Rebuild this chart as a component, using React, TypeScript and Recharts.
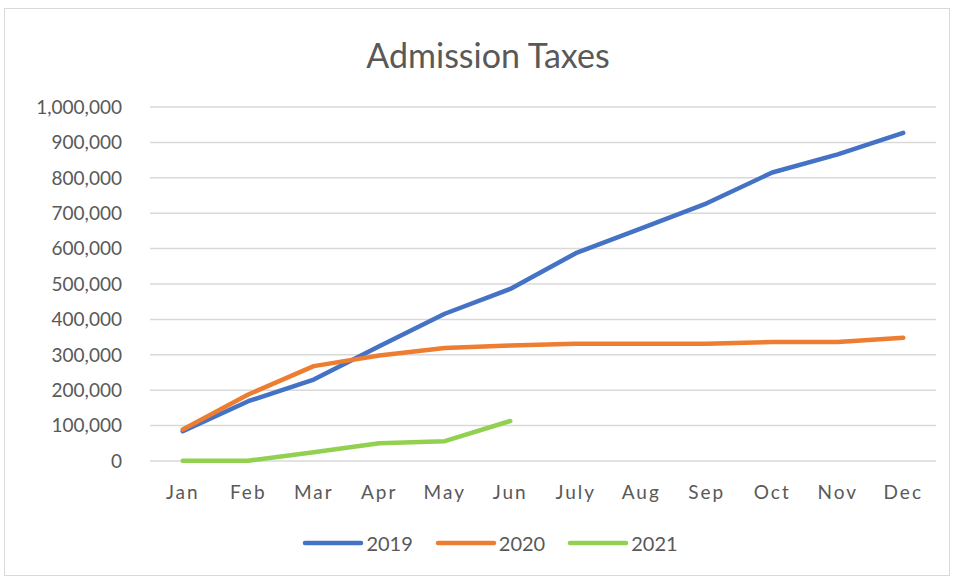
import { LineChart, Line, XAxis, YAxis, CartesianGrid } from 'recharts';

const months = ['Jan', 'Feb', 'Mar', 'Apr', 'May', 'Jun', 'July', 'Aug', 'Sep', 'Oct', 'Nov', 'Dec'];
const taxes2019 = [84000, 169000, 230000, 324000, 416000, 486000, 587000, 657000, 728000, 815000, 866000, 927000];
const taxes2020 = [89000, 188000, 268000, 298000, 319000, 326000, 331000, 331000, 331000, 336000, 336000, 348000];
const taxes2021: (number | null)[] = [1000, 1000, 25000, 50000, 56000, 113000, null, null, null, null, null, null];
const yTicks = [0, 100000, 200000, 300000, 400000, 500000, 600000, 700000, 800000, 900000, 1000000];

const seriesList = [
  { key: 'y2019', name: '2019', color: '#4472C4' },
  { key: 'y2020', name: '2020', color: '#ED7D31' },
  { key: 'y2021', name: '2021', color: '#92D050' },
];

const data = months.map((m, i) => ({
  month: m,
  y2019: taxes2019[i],
  y2020: taxes2020[i],
  y2021: taxes2021[i],
}));

const FONT = 'Lato, "Liberation Sans", sans-serif';
const TEXT = '#595959';

function LegendRow() {
  return (
    <div
      style={{
        position: 'absolute',
        left: 0,
        width: 980,
        top: 531,
        display: 'flex',
        justifyContent: 'center',
        gap: 22,
        fontFamily: FONT,
        fontSize: 20,
        color: TEXT,
      }}
    >
      {seriesList.map((s) => (
        <div key={s.key} style={{ display: 'flex', alignItems: 'center' }}>
          <svg width={62} height={10}>
            <line x1={3} y1={5} x2={59} y2={5} stroke={s.color} strokeWidth={4.5} strokeLinecap="round" />
          </svg>
          <span style={{ marginLeft: 2 }}>{s.name}</span>
        </div>
      ))}
    </div>
  );
}

export default function App() {
  return (
    <div style={{ position: 'absolute', left: 0, top: 0, width: 954, height: 578, background: '#fff' }}>
      <div
        style={{
          position: 'absolute',
          left: 4,
          top: 8,
          width: 946,
          height: 568,
          border: '1px solid #d9d9d9',
          boxSizing: 'border-box',
        }}
      />
      <div
        style={{
          position: 'absolute',
          left: 0,
          width: 976,
          top: 34,
          textAlign: 'center',
          fontFamily: FONT,
          fontSize: 34,
          color: TEXT,
        }}
      >
        Admission Taxes
      </div>
      <LineChart
        width={954}
        height={578}
        data={data}
        margin={{ top: 107, right: 18, bottom: 116, left: 20 }}
        style={{ position: 'absolute', left: 0, top: 0 }}
      >
        <CartesianGrid vertical={false} stroke="#d9d9d9" strokeWidth={1.5} />
        <XAxis
          dataKey="month"
          scale="band"
          height={1}
          axisLine={false}
          tickLine={false}
          tickSize={0}
          tickMargin={25}
          tick={{ fill: TEXT, fontSize: 19, fontFamily: FONT, letterSpacing: 2 }}
        />
        <YAxis
          width={130}
          domain={[0, 1000000]}
          ticks={yTicks}
          interval={0}
          axisLine={false}
          tickLine={false}
          tickSize={0}
          tickMargin={28}
          tickFormatter={(v: number) => v.toLocaleString('en-US')}
          tick={{ fill: TEXT, fontSize: 19, fontFamily: FONT }}
        />
        {seriesList.map((s) => (
          <Line
            key={s.key}
            type="linear"
            dataKey={s.key}
            name={s.name}
            stroke={s.color}
            strokeWidth={4.5}
            strokeLinecap="round"
            strokeLinejoin="round"
            dot={false}
            activeDot={false}
            isAnimationActive={false}
          />
        ))}
      </LineChart>
      <LegendRow />
    </div>
  );
}
